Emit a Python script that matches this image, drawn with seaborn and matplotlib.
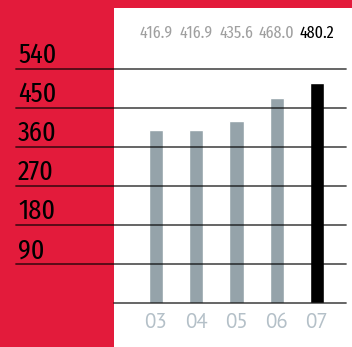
import matplotlib
matplotlib.use("Agg")
import matplotlib.pyplot as plt
import matplotlib.patches as mpatches
from matplotlib import font_manager as fm
import seaborn as sns
import pandas as pd

years = ["03", "04", "05", "06", "07"]
bar_heights = [399, 399, 420, 473, 508]
value_labels = ["416.9", "416.9", "435.6", "468.0", "480.2"]
y_ticks = [90, 180, 270, 360, 450, 540]

RED = "#E31B3B"
GRAY = "#95A3AA"
BLACK = "#000000"
bar_colors = [GRAY, GRAY, GRAY, GRAY, BLACK]
label_colors = ["#A0A0A0", "#A0A0A0", "#A0A0A0", "#A0A0A0", "#000000"]

sns.set_style("white")
plt.rcParams["font.family"] = ["DejaVu Sans"]

names = {f.name for f in fm.fontManager.ttflist}


def pick(cands, default):
    for c in cands:
        if c in names:
            return c
    return default


COND = pick(["Fira Sans Extra Condensed", "Barlow Condensed", "Asap Condensed",
             "PT Sans Narrow", "Roboto Condensed", "Encode Sans Condensed"], "DejaVu Sans")
SANS = pick(["PT Sans", "Source Sans 3", "Open Sans"], "DejaVu Sans")

W, H = 352, 347
fig = plt.figure(figsize=(W / 100, H / 100), dpi=100)
fig.patch.set_facecolor(RED)
fig.patches.append(mpatches.Rectangle((114 / W, 0), (W - 114) / W, (H - 8) / H,
                                      transform=fig.transFigure, facecolor="white",
                                      edgecolor="none", zorder=-5))

left_px, right_px = 16, 346
top_px, bot_px = 69, 303
ax = fig.add_axes([left_px / W, (H - bot_px) / H, (right_px - left_px) / W, (bot_px - top_px) / H])
ax.set_facecolor("none")
ax.set_zorder(5)

df = pd.DataFrame({"year": years, "value": bar_heights})
sns.barplot(data=df, x="year", y="value", hue="year", palette=bar_colors,
            width=0.35, legend=False, ax=ax, saturation=1, zorder=2)

sp = 40.25
ax.set_xlim(-(156 - left_px) / sp, 4 + (right_px - 317) / sp)
ax.set_ylim(0, 540)

for s in ax.spines.values():
    s.set_visible(False)
ax.set_yticks([])
ax.set_xticks([])
ax.set_xlabel("")
ax.set_ylabel("")

for t in y_ticks:
    ax.axhline(t, color="black", alpha=0.65, lw=1.3, zorder=3, clip_on=False)
    ax.text(0.006, t + 13, str(t), transform=ax.get_yaxis_transform(),
            ha="left", va="baseline", fontsize=20.5, color="black", zorder=4,
            family=COND, weight="normal")
ax.axhline(0, xmin=(114 - left_px) / (right_px - left_px), color="black", alpha=0.65,
           lw=1.3, zorder=3, clip_on=False)

for i, (lab, c) in enumerate(zip(value_labels, label_colors)):
    ax.text(i, 623, lab, ha="center", va="center", fontsize=12.5, color=c,
            clip_on=False, family=COND)
    ax.text(i, -46, years[i], ha="center", va="center", fontsize=15, color="#B4C0C8",
            clip_on=False, family=SANS)

fig.savefig("out.png", dpi=100, facecolor=RED)
